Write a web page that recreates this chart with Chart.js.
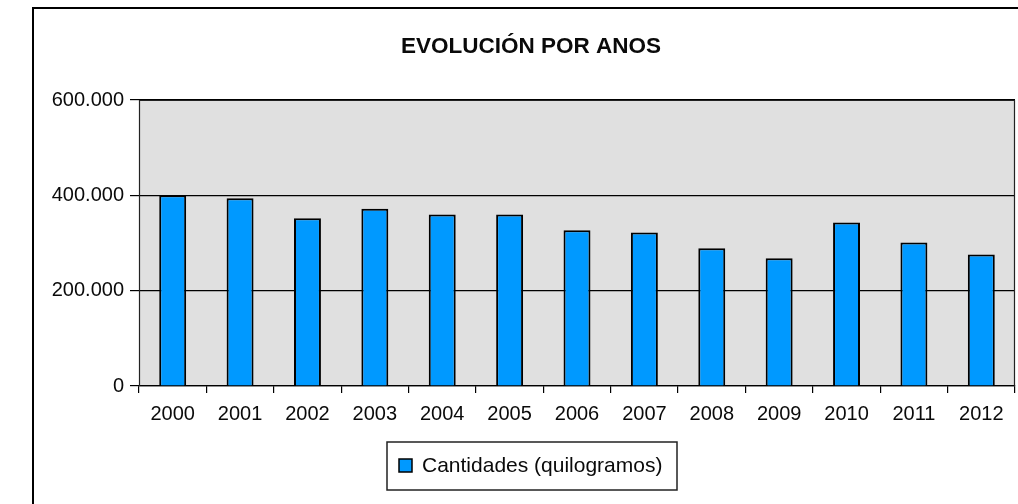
<!DOCTYPE html>
<html>
<head>
<meta charset="utf-8">
<script src="https://cdn.jsdelivr.net/npm/chart.js@4.4.0/dist/chart.umd.min.js"></script>
<style>
html,body{margin:0;padding:0;background:#fff;}
#wrap{width:1018px;height:504px;position:relative;}
canvas{display:block;}
</style>
</head>
<body>
<div id="wrap"><canvas id="c" width="1018" height="504"></canvas></div>
<script>
const titleText = 'EVOLUCIÓN POR ANOS';
const seriesName = 'Cantidades (quilogramos)';
const categories = ['2000','2001','2002','2003','2004','2005','2006','2007','2008','2009','2010','2011','2012'];
const values = [400000, 394000, 352000, 372000, 360000, 360000, 327000, 322000, 289000, 268000, 343000, 301000, 276000];
const yTickValues = [0, 200000, 400000, 600000];
const yTickLabels = ['0', '200.000', '400.000', '600.000'];

const FONT = "'Liberation Sans', Arial, sans-serif";
const TEXT = '#0a0a0a';
const BAR = '#0099FF';

const decor = {
  id: 'decor',
  beforeDraw(chart) {
    const {ctx, chartArea: a} = chart;
    ctx.save();
    ctx.fillStyle = '#E0E0E0';
    ctx.fillRect(a.left, a.top, a.right - a.left, a.bottom - a.top);
    ctx.restore();
  },
  afterDraw(chart) {
    const {ctx, chartArea: a} = chart;
    ctx.save();
    // plot frame
    ctx.strokeStyle = '#222';
    ctx.lineWidth = 1.2;
    ctx.beginPath();
    ctx.moveTo(a.left + 0.5, a.bottom);
    ctx.lineTo(a.left + 0.5, a.top + 0.5);
    ctx.lineTo(a.right - 0.5, a.top + 0.5);
    ctx.lineTo(a.right - 0.5, a.bottom);
    ctx.stroke();
    // outer border
    ctx.strokeStyle = '#000';
    ctx.lineWidth = 2;
    ctx.strokeRect(33, 8, 1100, 600);
    // title
    ctx.fillStyle = TEXT;
    ctx.font = 'bold 22.5px ' + FONT;
    ctx.textAlign = 'center';
    ctx.textBaseline = 'middle';
    ctx.fillText(titleText, 531, 47);
    // legend
    ctx.strokeStyle = '#222';
    ctx.lineWidth = 1.5;
    ctx.strokeRect(387, 442, 290, 48);
    ctx.fillStyle = BAR;
    ctx.fillRect(399, 459, 13, 13);
    ctx.strokeStyle = '#000';
    ctx.lineWidth = 1.5;
    ctx.strokeRect(399, 459, 13, 13);
    ctx.fillStyle = TEXT;
    ctx.font = '21px ' + FONT;
    ctx.textAlign = 'left';
    ctx.textBaseline = 'middle';
    ctx.fillText(seriesName, 422, 466);
    ctx.restore();
  }
};

new Chart(document.getElementById('c'), {
  type: 'bar',
  data: {
    labels: categories,
    datasets: [{
      label: seriesName,
      data: values,
      backgroundColor: BAR,
      borderColor: '#000',
      borderWidth: 2,
      barPercentage: 0.4,
      categoryPercentage: 1.0
    }]
  },
  options: {
    responsive: false,
    devicePixelRatio: 1,
    animation: false,
    layout: {padding: {left: 0, right: 3, top: 100, bottom: 0}},
    plugins: {
      legend: {display: false},
      title: {display: false},
      tooltip: {enabled: false}
    },
    scales: {
      x: {
        offset: true,
        afterFit(scale) { scale.height = 118; },
        grid: {
          offset: true,
          drawOnChartArea: false,
          drawTicks: true,
          tickLength: 7,
          color: '#000',
          lineWidth: 1.2
        },
        border: {display: true, color: '#000', width: 1.2},
        ticks: {
          color: TEXT,
          font: {family: FONT, size: 20},
          padding: 9,
          maxRotation: 0,
          autoSkip: false
        }
      },
      y: {
        min: 0,
        max: 600000,
        afterFit(scale) { scale.width = 139; },
        afterBuildTicks(scale) { scale.ticks = yTickValues.map(v => ({value: v})); },
        grid: {
          color: '#000',
          lineWidth: 1.2,
          drawTicks: true,
          tickLength: 9
        },
        border: {display: false},
        ticks: {
          color: TEXT,
          font: {family: FONT, size: 20},
          padding: 6,
          callback(value) {
            const i = yTickValues.indexOf(value);
            return i >= 0 ? yTickLabels[i] : '';
          }
        }
      }
    }
  },
  plugins: [decor]
});
</script>
</body>
</html>
